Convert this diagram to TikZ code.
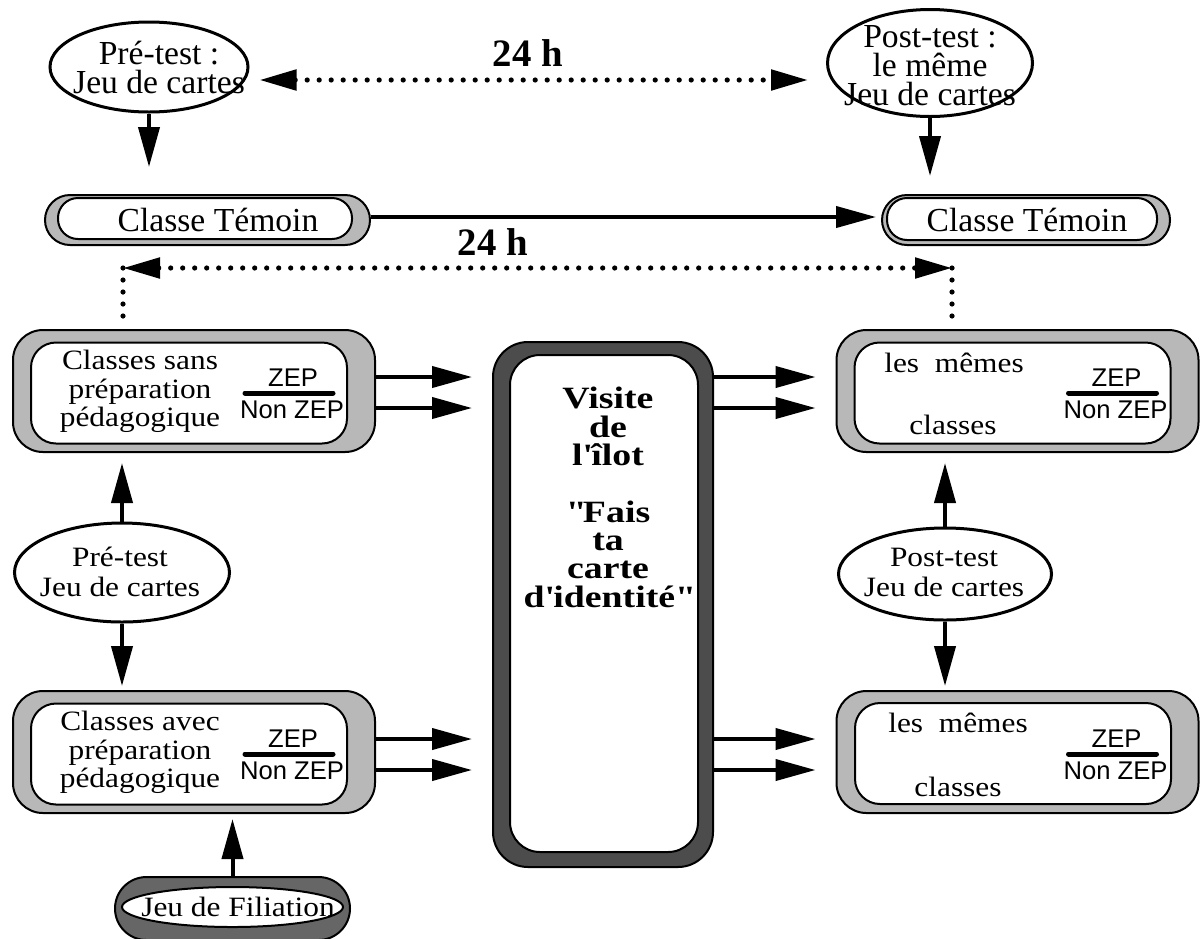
\documentclass[tikz,border=0pt]{standalone}
\usepackage{fontspec}
\setmainfont{Liberation Serif}
\newfontfamily\zepfont{Liberation Sans}
\newfontfamily\widefont[FakeStretch=1.12]{Liberation Serif}
\newfontfamily\widebf[FakeStretch=1.22]{Liberation Serif}
\usetikzlibrary{arrows.meta}
\usetikzlibrary{shapes.geometric}
\usetikzlibrary{calc}

\begin{document}
\begin{tikzpicture}[x=.5pt, y=-.5pt,
		outerbox/.style={draw, line width=1pt, fill=black!28, rounded corners=15pt, minimum width=181pt, minimum height=61pt, inner sep=0pt},
		innerbox/.style={draw, line width=1pt, fill=white, rounded corners=12.5pt, minimum width=158pt, minimum height=50.5pt, inner sep=0pt},
		pill/.style={draw, line width=1pt, fill=black!28, rounded corners=12.5pt, minimum height=25pt, inner sep=0pt},
		oval/.style={draw, ellipse, line width=1.5pt, inner sep=0pt},
		txt/.style={align=center, font=\widefont\fontsize{14}{14.3}\selectfont, inner sep=0pt},
		toptxt/.style={align=center, font=\fontsize{16.8}{14.5}\selectfont, inner sep=0pt},
		zep/.style={font=\zepfont\fontsize{12.8}{13}\selectfont, inner sep=0pt},
		big/.style={align=center, font=\widebf\fontsize{15.5}{14.2}\selectfont\bfseries, inner sep=0pt},
		hours/.style={font=\fontsize{19.4}{20}\selectfont\bfseries, inner sep=0pt},
		flow/.style={line width=2pt, -{Triangle[length=20pt, width=10.5pt]}},
		dotline/.style={line width=2.6pt, line cap=round, dash pattern=on 0pt off 6pt},
		dothead/.style={{Triangle[length=18.5pt, width=10pt]}-{Triangle[length=18.5pt, width=10pt]}}]
				\useasboundingbox (0,0) rectangle (1202,938);
				\node[oval, minimum width=99pt, minimum height=45pt] (pre1) at (149,67) {};
				\node[toptxt] at (159,67.5) {Pré-test :\\Jeu de cartes};
				\node[oval, minimum width=102.5pt, minimum height=53.5pt] (post1) at (930,63) {};
				\node[toptxt] at (930,66) {Post-test :\\le même\\Jeu de cartes};
				\node[pill, minimum width=162.5pt] (temoin1) at (207.5,220) {};
				\node[pill, fill=white, rounded corners=10pt, minimum width=147pt, minimum height=20.5pt] at (205,218.5) {};
				\node[toptxt] at (218,220) {Classe Témoin};
				\node[pill, minimum width=144pt] (temoin2) at (1026,220) {};
				\node[pill, fill=white, rounded corners=10pt, minimum width=135pt, minimum height=21pt] at (1022,219) {};
				\node[toptxt] at (1027,220) {Classe Témoin};
				\node[hours] at (528,53) {24 h};
				\node[hours] at (493,242) {24 h};
				\node[outerbox] (sans) at (194,391) {};
				\node[innerbox] at (189,393) {};
				\node[txt] at (140,391.5) {Classes sans\\préparation\\pédagogique};
				\node[outerbox] (avec) at (194,752) {};
				\node[innerbox] at (189,754) {};
				\node[txt] at (140,752.5) {Classes avec\\préparation\\pédagogique};
				\node[outerbox] (memes1) at (1017.5,391) {};
				\node[innerbox] at (1012.5,393) {};
				\node[txt] at (954,363) {les\ \ mêmes};
				\node[txt] at (953,425) {classes};
				\node[outerbox] (memes2) at (1017.5,752) {};
				\node[innerbox] at (1013,753.5) {};
				\node[txt] at (958,723) {les\ \ mêmes};
				\node[txt] at (958,787) {classes};
				\foreach \b in {sans,avec,memes1,memes2} {
					\node[zep] at ($(\b)+(99,-13.5)$) {ZEP};
					\draw[line width=2.5pt, line cap=round] ($(\b)+(51,2)$) -- ($(\b)+(139,2)$);
					\node[zep] at ($(\b)+(98,19)$) {Non ZEP};
				}
				\node[draw, line width=1pt, fill=black!70, rounded corners=17.5pt, minimum width=110pt, minimum height=262.5pt, inner sep=0pt] (visite) at (603,604.5) {};
				\node[draw, line width=1pt, fill=white, rounded corners=15pt, minimum width=94pt, minimum height=248.5pt, inner sep=0pt] at (604,603.5) {};
				\node[big] at (608,497.5) {Visite\\de\\l\textquotesingle îlot\\[14pt]\textquotedbl Fais\\ta\\carte\\d\textquotesingle identité\textquotedbl};
				\node[oval, minimum width=107.5pt, minimum height=49.5pt] (prepre) at (122,572.5) {};
				\node[txt, font=\widefont\fontsize{14}{15}\selectfont] at (120,572) {Pré-test\\Jeu de cartes};
				\node[oval, minimum width=106.5pt, minimum height=46pt] (postpost) at (945,574) {};
				\node[txt, font=\widefont\fontsize{14}{15}\selectfont] at (944,572) {Post-test\\Jeu de cartes};
				\node[pill, fill=black!60, rounded corners=15.75pt, minimum width=117.5pt, minimum height=31.5pt] (filiation) at (232.5,908.5) {};
				\node[draw, ellipse, line width=1pt, fill=white, minimum width=110.5pt, minimum height=20pt, inner sep=0pt] at (232.5,907) {};
				\node[txt] at (238,907) {Jeu de Filiation};
				\draw[flow, shorten >=13.5pt] (pre1.south) -- (pre1.south |- temoin1.north);
				\draw[flow, shorten >=9pt] (post1.south) -- (post1.south |- temoin2.north);
				\draw[flow, shorten >=2.5pt] ($(temoin1.east)+(0,-3)$) -- ($(temoin2.west)+(0,-3)$);
				\draw[dotline, dothead, shorten <=5pt, shorten >=9pt] (pre1.east |- 0,80) -- (post1.west |- 0,80);
				\coordinate (dl) at (123,268);
				\coordinate (dr) at (952,268);
				\coordinate (dlb) at (123,318);
				\coordinate (drb) at (952,318);
				\draw[dotline, dothead] (dl) -- (dr);
				\draw[dotline] (dl) -- (dlb);
				\draw[dotline] (dr) -- (drb);
				\foreach \dy in {-14,17} {
					\draw[flow, shorten >=10pt] ($(sans.east)+(0,\dy)$) -- ($(sans.east -| visite.west)+(0,\dy)$);
					\draw[flow, shorten >=10pt] ($(memes1.west -| visite.east)+(0,\dy)$) -- ($(memes1.west)+(0,\dy)$);
				}
				\foreach \dy in {-13,18} {
					\draw[flow, shorten >=10pt] ($(avec.east)+(0,\dy)$) -- ($(avec.east -| visite.west)+(0,\dy)$);
					\draw[flow, shorten >=10pt] ($(memes2.west -| visite.east)+(0,\dy)$) -- ($(memes2.west)+(0,\dy)$);
				}
				\draw[flow, shorten >=5pt] (prepre.north) -- (prepre.north |- sans.south);
				\draw[flow, shorten >=2pt] (prepre.south) -- (prepre.south |- avec.north);
				\draw[flow, shorten >=5pt] (postpost.north) -- (postpost.north |- memes1.south);
				\draw[flow, shorten >=2pt] (postpost.south) -- (postpost.south |- memes2.north);
				\draw[flow, shorten >=2.5pt] (filiation.north) -- (filiation.north |- avec.south);
			\end{tikzpicture}
\end{document}
